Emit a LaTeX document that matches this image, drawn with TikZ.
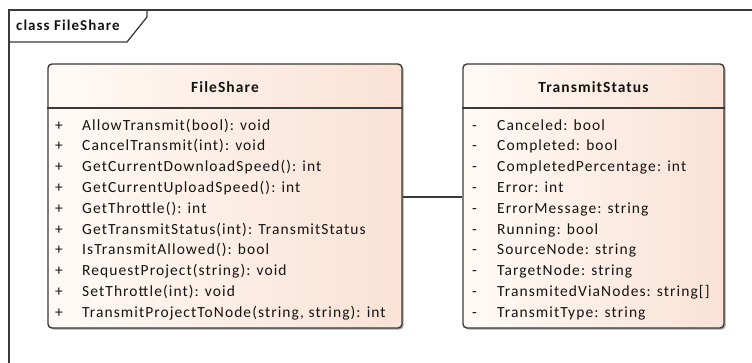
\documentclass[tikz,border=0pt]{standalone}
\usepackage{fontspec}
\setmainfont{Carlito}
\newfontfamily\umlfont[LetterSpace=7]{Carlito}
\usetikzlibrary{shadows}

\definecolor{umlline}{HTML}{3A3A3A}
\definecolor{umltext}{HTML}{141414}
\definecolor{fillleft}{HTML}{FFFAF6}
\definecolor{fillright}{HTML}{FAE2D5}

\tikzset{
  classbox/.style={draw=umlline, line width=1.4pt, rounded corners=4pt,
    left color=fillleft, right color=fillright, inner sep=0pt,
    drop shadow={shadow xshift=1.6pt, shadow yshift=-1.6pt, opacity=0.35, fill=black}},
  classtitle/.style={font=\umlfont\fontsize{15.5}{18}\selectfont\bfseries, text=umltext},
  member/.style={font=\umlfont\fontsize{15.5}{18}\selectfont, text=umltext, anchor=base west, inner sep=0pt},
  frameline/.style={draw=umlline, line width=1.3pt},
}

\begin{document}
\begin{tikzpicture}[x=1pt, y=-1pt]
  \useasboundingbox (0,0) rectangle (752,362);
  \clip (0,0) rectangle (752,362);

  % diagram frame and its name tab
  \draw[frameline] (9,380) -- (9,10) -- (770,10);
  \coordinate (tabA) at (9,42);
  \coordinate (tabB) at (127,42);
  \coordinate (tabC) at (147,17);
  \coordinate (tabD) at (147,10);
  \draw[frameline] (tabA) -- (tabB) -- (tabC) -- (tabD);
  \node[font=\umlfont\fontsize{15}{17}\selectfont\bfseries, text=umltext, anchor=base west, inner sep=0pt]
    (frametitle) at (16,30.5) {class FileShare};

  % class boxes
  \node[classbox, minimum width=354pt, minimum height=264pt] (fs) at (225,196) {};
  \node[classbox, minimum width=261pt, minimum height=264pt] (ts) at (593.5,196) {};

  % compartment separators
  \draw[draw=umlline, line width=1.4pt] (fs.west |- 0,108) -- (fs.east |- 0,108);
  \draw[draw=umlline, line width=1.4pt] (ts.west |- 0,108) -- (ts.east |- 0,108);

  % class names
  \node[classtitle] (fsname) at (225,87) {FileShare};
  \node[classtitle] (tsname) at (593.5,87) {TransmitStatus};

  % operations of FileShare
  \foreach \op [count=\i from 0] in {
    AllowTransmit(bool): void,
    CancelTransmit(int): void,
    GetCurrentDownloadSpeed(): int,
    GetCurrentUploadSpeed(): int,
    GetThrottle(): int,
    GetTransmitStatus(int): TransmitStatus,
    IsTransmitAllowed(): bool,
    RequestProject(string): void,
    SetThrottle(int): void,
    {TransmitProjectToNode(string, string): int}} {
    \node[member] (fsvis\i) at (55,130+20.8*\i) {+};
    \node[member] (fsop\i) at (82,130+20.8*\i) {\op};
  }

  % attributes of TransmitStatus
  \foreach \at [count=\i from 0] in {
    Canceled: bool,
    Completed: bool,
    CompletedPercentage: int,
    Error: int,
    ErrorMessage: string,
    Running: bool,
    SourceNode: string,
    TargetNode: string,
    TransmitedViaNodes: string[],
    TransmitType: string} {
    \node[member] (tsvis\i) at (472,130+20.8*\i) {-};
    \node[member] (tsat\i) at (497,130+20.8*\i) {\at};
  }

  % association
  \draw[draw=umlline, line width=1.3pt] (fs.east |- 0,197) -- (ts.west |- 0,197);
\end{tikzpicture}
\end{document}
